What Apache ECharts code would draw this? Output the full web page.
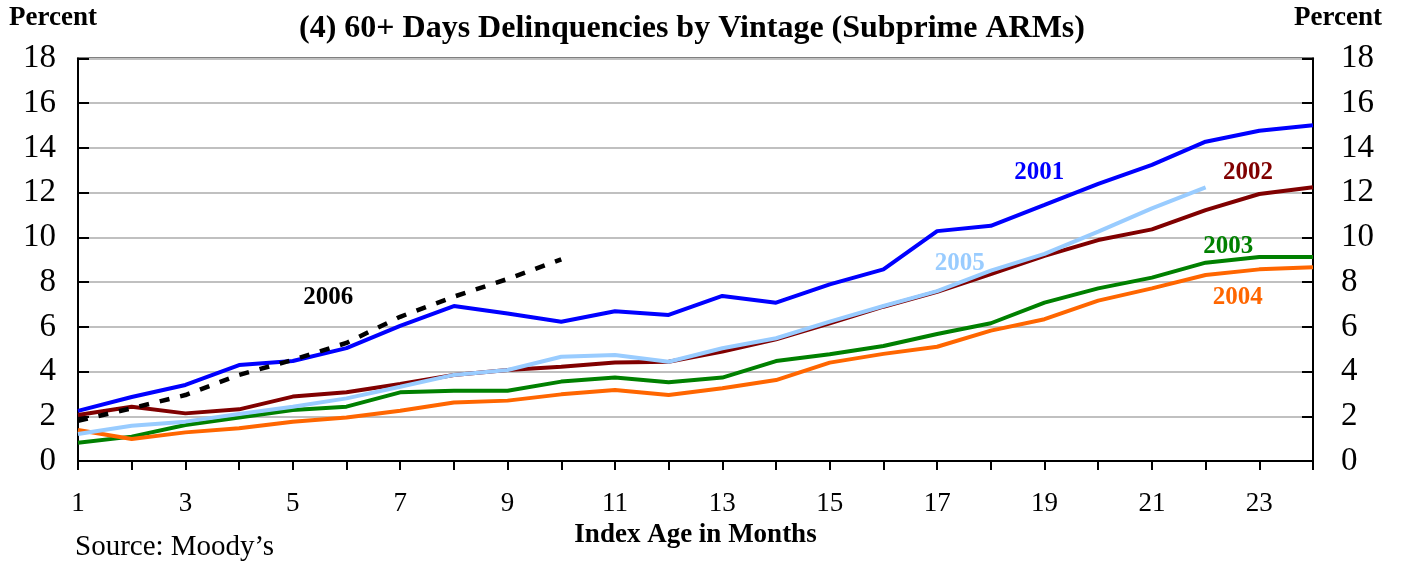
<!DOCTYPE html>
<html><head><meta charset="utf-8">
<script src="https://cdn.jsdelivr.net/npm/echarts@6/dist/echarts.min.js"></script>
<style>html,body{margin:0;padding:0;background:#fff}#c{width:1402px;height:566px}</style>
</head><body><div id="c"></div>
<script>
const months = [1,2,3,4,5,6,7,8,9,10,11,12,13,14,15,16,17,18,19,20,21,22,23,24];
const v2001 = [2.24,2.86,3.4,4.29,4.47,5.05,6.04,6.93,6.6,6.23,6.7,6.53,7.38,7.08,7.9,8.57,10.28,10.52,11.45,12.39,13.24,14.28,14.77,15.01];
const v2002 = [2.06,2.43,2.13,2.31,2.88,3.07,3.44,3.85,4.07,4.22,4.4,4.44,4.89,5.44,6.16,6.9,7.57,8.36,9.17,9.88,10.36,11.22,11.94,12.24];
const v2003 = [0.82,1.09,1.61,1.95,2.28,2.43,3.07,3.14,3.14,3.55,3.73,3.52,3.73,4.47,4.77,5.14,5.68,6.16,7.08,7.72,8.2,8.87,9.12,9.12];
const v2004 = [1.39,0.98,1.28,1.46,1.76,1.95,2.25,2.62,2.7,2.98,3.18,2.95,3.25,3.62,4.4,4.79,5.11,5.83,6.34,7.17,7.72,8.32,8.57,8.66];
const v2005 = [1.21,1.58,1.76,2.1,2.43,2.8,3.32,3.85,4.07,4.66,4.74,4.44,5.04,5.49,6.23,6.93,7.6,8.51,9.26,10.26,11.3,12.24];
const v2006 = [1.8,2.36,2.95,3.85,4.52,5.28,6.45,7.35,8.14,9.02];
const seriesNames = ['2001','2002','2003','2004','2005','2006'];
const seriesColors = ['#0000FF','#800000','#008000','#FF6600','#99CCFF','#000000'];
// label anchor positions in data space [month, percent]
const labelPos = [[18.9,12.88],[22.79,12.88],[22.42,9.6],[22.6,7.29],[17.42,8.85],[5.66,7.29]];

const allVals = [v2001,v2002,v2003,v2004,v2005,v2006];
const serif = '"Liberation Serif","Times New Roman",serif';

const chart = echarts.init(document.getElementById('c'), null, {renderer:'canvas'});
const series = allVals.map((vals,i)=>({
  name: seriesNames[i],
  type:'line',
  data: vals.map((v,j)=>[months[j], v]),
  showSymbol:false,
  symbol:'none',
  smooth:false,
  lineStyle:{color:seriesColors[i], width: i===5?4.5:4, type: i===5?[10,11]:'solid', cap:'butt'},
  itemStyle:{color:seriesColors[i]},
  z: 2+i,
  animation:false
}));

const yAxisCommon = {
  type:'value', min:0, max:18, interval:2,
  axisLine:{show:true, lineStyle:{color:'#000', width:2}},
  axisTick:{show:true, inside:true, length:11, lineStyle:{color:'#000', width:2}},
  axisLabel:{color:'#000', fontFamily:serif, fontSize:33},
  splitLine:{show:false}
};

const fixedGraphics = [
  {type:'text', left:9, top:5, style:{text:'Percent', fontFamily:serif, fontWeight:'bold', fontSize:27, fill:'#000'}},
  {type:'text', right:20, top:5, style:{text:'Percent', fontFamily:serif, fontWeight:'bold', fontSize:27, fill:'#000'}},
  {type:'text', left:75, top:533, style:{text:'Source: Moody\u2019s', fontFamily:serif, fontSize:29, fill:'#000'}}
];

chart.setOption({
  animation:false,
  backgroundColor:'#fff',
  title:{
    text:'(4) 60+ Days Delinquencies by Vintage (Subprime ARMs)',
    left:294, top:8,
    textStyle:{fontFamily:serif, fontWeight:'bold', fontSize:32, color:'#000'}
  },
  grid:{left:78, right:89, top:58.5, bottom:105, show:true, borderColor:'#000', borderWidth:2, containLabel:false},
  xAxis:{
    type:'value', min:1, max:24, interval:1,
    name:'Index Age in Months', nameLocation:'middle', nameGap:58,
    nameTextStyle:{fontFamily:serif, fontWeight:'bold', fontSize:27, color:'#000', letterSpacing:-2.4},
    axisLine:{show:true, onZero:false, lineStyle:{color:'#000', width:2}},
    axisTick:{show:true, inside:false, length:9, lineStyle:{color:'#000', width:2}},
    axisLabel:{color:'#000', fontFamily:serif, fontSize:27, margin:29,
      formatter:(v)=> (v%2===1 ? String(v) : ''), showMinLabel:true, showMaxLabel:true},
    splitLine:{show:false}
  },
  yAxis:[
    Object.assign({}, yAxisCommon, {position:'left',
      axisLabel:Object.assign({}, yAxisCommon.axisLabel, {margin:22}),
      splitLine:{show:true, lineStyle:{color:'#C0C0C0', width:2}}}),
    Object.assign({}, yAxisCommon, {position:'right',
      axisLabel:Object.assign({}, yAxisCommon.axisLabel, {margin:28})})
  ],
  series: series,
  graphic: fixedGraphics
});

const labelGraphics = labelPos.map((p,i)=>{
  const px = chart.convertToPixel({gridIndex:0}, p);
  return {type:'text', x:px[0], y:px[1], style:{text:seriesNames[i], fontFamily:serif, fontWeight:'bold', fontSize:25,
    fill: seriesColors[i], align:'center', verticalAlign:'middle'}, z:20};
});
chart.setOption({graphic: fixedGraphics.concat(labelGraphics)}, {replaceMerge:['graphic']});
</script>
</body></html>
